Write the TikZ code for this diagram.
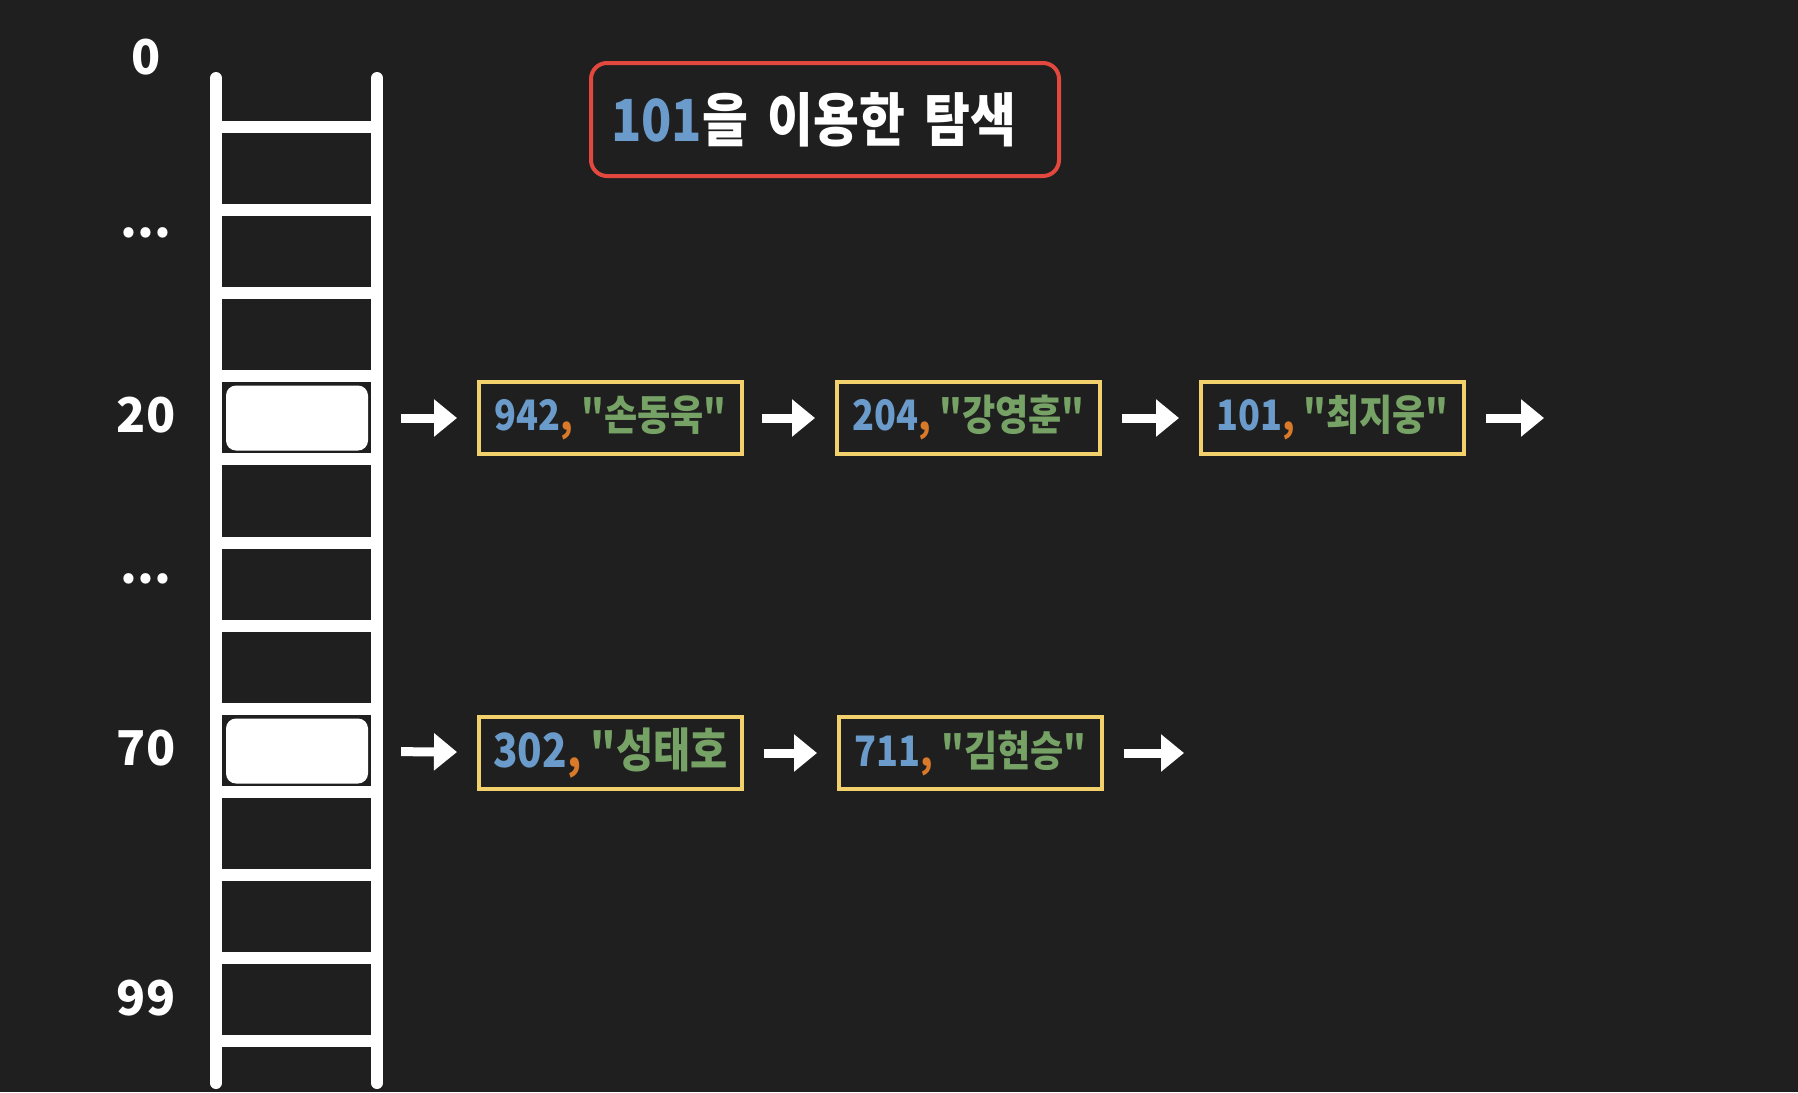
\documentclass[tikz,border=0pt]{standalone}
\usepackage{fontspec}
\usepackage{tikz}
\usetikzlibrary{arrows.meta, positioning}
\usepackage{xcolor}
\newfontfamily\cjk{Noto Sans CJK KR}
\newfontfamily\cjknarrow{Noto Sans CJK KR}[FakeStretch=0.86]
\definecolor{bgdark}{HTML}{1F1F1F}
\definecolor{keyblue}{HTML}{6A9BCB}
\definecolor{sepor}{HTML}{D9792A}
\definecolor{namegreen}{HTML}{76A266}
\definecolor{cellyellow}{HTML}{F2D06B}
\definecolor{titlered}{HTML}{E2483D}
\newcommand{\rec}[2]{{\color{keyblue}#1}{\color{sepor},} {\color{namegreen}#2}}

\begin{document}
\begin{tikzpicture}[
    x=1pt, y=-1pt,
    every node/.style={font=\cjk\bfseries},
    cell/.style={draw=cellyellow, line width=4pt, fill=bgdark, minimum width=263pt, minimum height=72pt, inner sep=0pt, font=\cjknarrow\bfseries\fontsize{42}{50}\selectfont},
    slot/.style={fill=white, rounded corners=10pt, minimum width=142pt, minimum height=65pt, inner sep=0pt},
    idx/.style={text=white, font=\cjk\bfseries\fontsize{48}{56}\selectfont},
    rail/.style={white, line width=12pt},
    arr/.style={-{Triangle[length=23pt, width=36pt]}, white, line width=9pt},
]
    \fill[bgdark] (0,0) rectangle (1798,1092);
    \useasboundingbox (0,0) rectangle (1798,1092);

    % Title
    \node[draw=titlered, line width=4pt, rounded corners=16pt, text=white, minimum height=113pt, text width=428pt, inner xsep=20pt, align=left, font=\cjknarrow\bfseries\fontsize{58}{68}\selectfont] (title) at (825,119.5) {{\color{keyblue}101}을 이용한 탐색};

    % Ladder (hash table)
    \draw[rail, line cap=round] (216,78) -- (216,1083);
    \draw[rail, line cap=round] (377,78) -- (377,1083);
    \foreach \k in {0,...,11}
        \draw[rail] (216,{127+83.1*\k}) -- (377,{127+83.1*\k});

    % Occupied slots
    \node[slot] (slot20) at (297,418) {};
    \node[slot] (slot70) at (297,751) {};

    % Index labels
    \node[idx] (idx0) at (146,57) {0};
    \node[idx] (dotsA) at (146,233) {...};
    \node[idx] (idx20) at (146,415) {20};
    \node[idx] (dotsB) at (146,579) {...};
    \node[idx] (idx70) at (146,748) {70};
    \node[idx] (idx99) at (146,998) {99};

    % Chain at 20
    \node[cell] (c942) at (610.5,418) {\rec{942}{"손동욱"}};
    \node[cell, right=91pt of c942] (c204) {\rec{204}{"강영훈"}};
    \node[cell, right=97pt of c204] (c101) {\rec{101}{"최지웅"}};
    \coordinate[right=78pt of c101.east] (tail20);

    % Chain at 70
    \node[cell, below=259pt of c942, font=\cjknarrow\bfseries\fontsize{47}{54}\selectfont] (c302) {\rec{302}{"성태호}};
    \node[cell, right=93pt of c302] (c711) {\rec{711}{"김현승"}};
    \coordinate[right=80pt of c711.east] (tail70);

    % Arrows
    \draw[arr, shorten <=33pt, shorten >=20pt] (slot20) -- (c942);
    \draw[arr, shorten <=18pt, shorten >=20pt] (c942) -- (c204);
    \draw[arr, shorten <=20pt, shorten >=20pt] (c204) -- (c101);
    \draw[arr, shorten <=20pt] (c101) -- (tail20);
    \draw[arr, shorten <=33pt, shorten >=20pt] (slot70) -- (c302);
    \draw[arr, shorten <=20pt, shorten >=20pt] (c302) -- (c711);
    \draw[arr, shorten <=20pt] (c711) -- (tail70);
\end{tikzpicture}
\end{document}
